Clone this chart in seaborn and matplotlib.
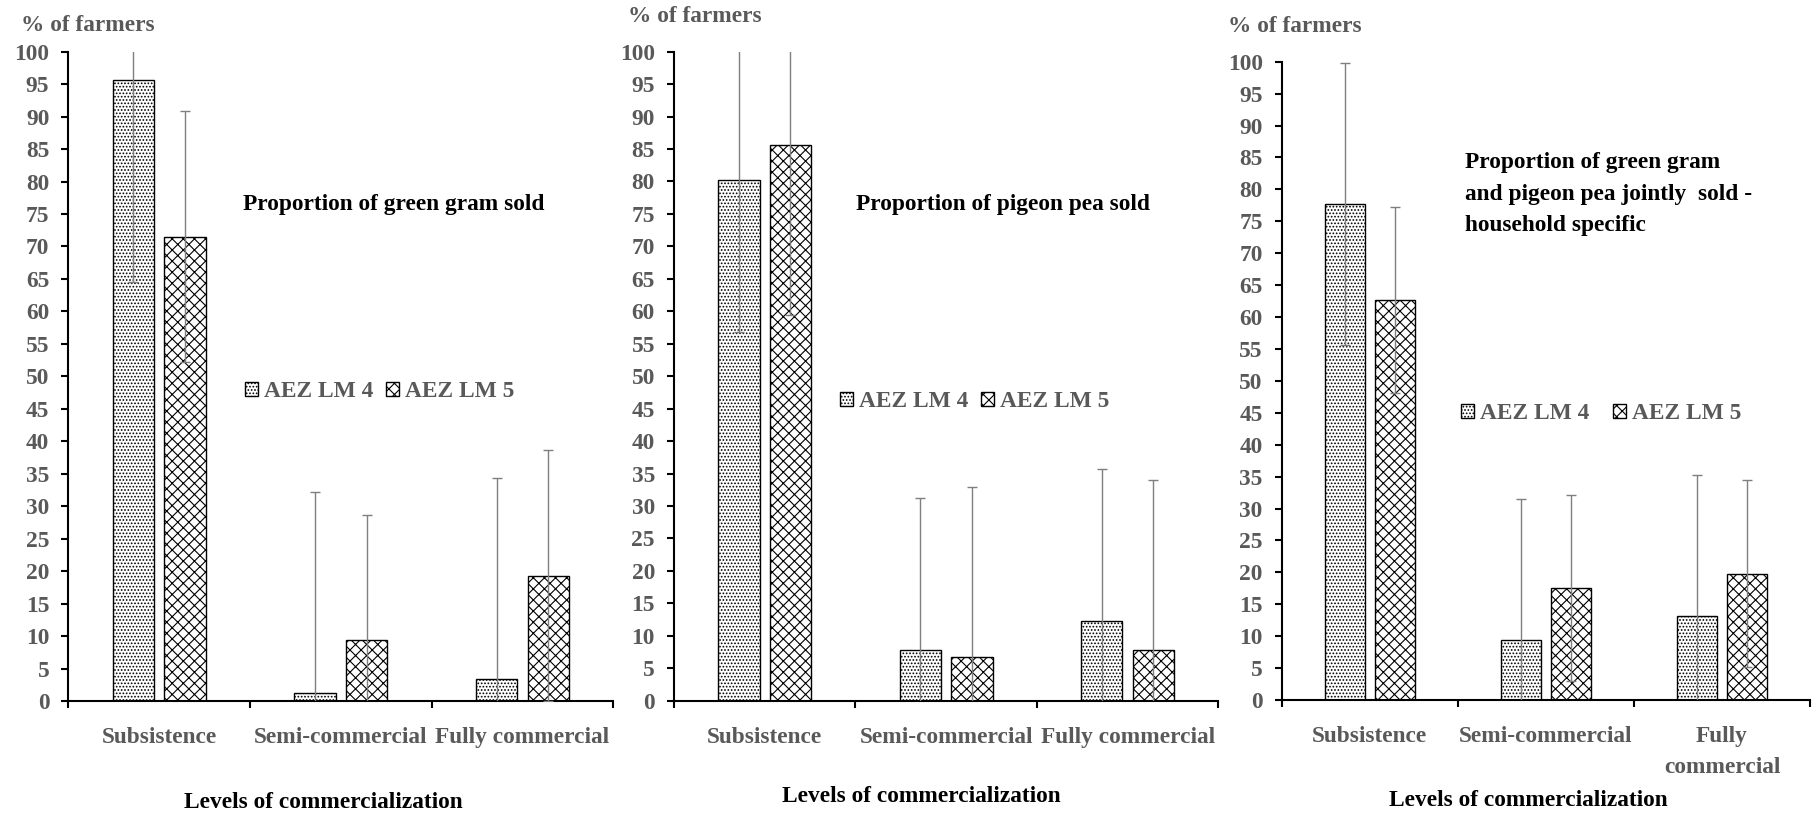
import matplotlib
matplotlib.use("Agg")
import matplotlib.pyplot as plt
import pandas as pd
import seaborn as sns

# Commercialization levels and agro-ecological zones
levels = ["Subsistence", "Semi-commercial", "Fully commercial"]
zones = ["AEZ LM 4", "AEZ LM 5"]

# % of farmers per level, green gram
green_gram_lm4 = [95.6, 1.2, 3.4]
green_gram_lm5 = [71.5, 9.4, 19.3]
green_gram_err = [31.0, 19.3]

# % of farmers per level, pigeon pea
pigeon_pea_lm4 = [80.2, 7.8, 12.3]
pigeon_pea_lm5 = [85.7, 6.7, 7.8]
pigeon_pea_err = [23.4, 26.2]

# % of farmers per level, both crops jointly (household specific)
joint_lm4 = [77.7, 9.4, 13.2]
joint_lm5 = [62.7, 17.5, 19.8]
joint_err = [22.1, 14.6]

titles = [
    "Proportion of green gram sold",
    "Proportion of pigeon pea sold",
    "Proportion of green gram\nand pigeon pea jointly  sold -\nhousehold specific",
]
tick_labels_single = ["Subsistence", "Semi-commercial", "Fully commercial"]
tick_labels_wrapped = ["Subsistence", "Semi-commercial", "Fully\ncommercial"]
y_ticks = list(range(0, 101, 5))
y_title = "% of farmers"
x_title = "Levels of commercialization"

sns.set_theme(style="ticks")
plt.rcParams["font.family"] = ["Liberation Serif", "DejaVu Serif"]
plt.rcParams["font.weight"] = "bold"
plt.rcParams["hatch.linewidth"] = 0.8

GREY = "#595959"
FS = 16.8
hatches = [".....", "xxx"]

fig = plt.figure(figsize=(18.2, 8.17), dpi=100)

panels = [
    dict(lm4=green_gram_lm4, lm5=green_gram_lm5, err=green_gram_err, title=titles[0],
         ticks=tick_labels_single,
         rect=[0.03753, 0.14198, 0.29945, 0.79474],
         title_xy=(0.320, 0.764), leg_xy=(0.3246, 0.476), colsp=0.54,
         xlabel_xy=(0.468, -0.157), ytitle_xy=(0.01137, 0.9694)),
    dict(lm4=pigeon_pea_lm4, lm5=pigeon_pea_lm5, err=pigeon_pea_err, title=titles[1],
         ticks=tick_labels_single,
         rect=[0.37033, 0.14235, 0.29907, 0.79437],
         title_xy=(0.3347, 0.764), leg_xy=(0.305, 0.461), colsp=0.54,
         xlabel_xy=(0.455, -0.148), ytitle_xy=(0.3449, 0.9796)),
    dict(lm4=joint_lm4, lm5=joint_lm5, err=joint_err, title=titles[2],
         ticks=tick_labels_wrapped,
         rect=[0.70423, 0.14321, 0.29027, 0.78127],
         title_xy=(0.347, 0.7927), leg_xy=(0.340, 0.449), colsp=1.0,
         xlabel_xy=(0.4677, -0.1567), ytitle_xy=(0.675, 0.9673)),
]

for pnl in panels:
    df = pd.DataFrame({
        "level": levels * 2,
        "zone": [zones[0]] * 3 + [zones[1]] * 3,
        "pct": pnl["lm4"] + pnl["lm5"],
    })
    ax = fig.add_axes(pnl["rect"])
    sns.barplot(data=df, x="level", y="pct", hue="zone", order=levels, hue_order=zones,
                palette={z: "white" for z in zones}, edgecolor="black", linewidth=1.0,
                width=0.568, gap=0.2, errorbar=None, legend=False, ax=ax)

    bar_containers = list(ax.containers[:2])
    for cont, hatch, err in zip(bar_containers, hatches, pnl["err"]):
        xs, ys = [], []
        for p in cont.patches:
            p.set_hatch(hatch)
            xs.append(p.get_x() + p.get_width() / 2)
            ys.append(p.get_height())
        ax.errorbar(xs, ys, yerr=err, fmt="none", ecolor="#7f7f7f", elinewidth=1.0,
                    capsize=3.3, capthick=1.0, zorder=4)

    ax.set_xlim(-0.5, 2.5)
    ax.set_ylim(0, 100)
    ax.set_yticks(y_ticks)
    ax.set_xticks([0, 1, 2], pnl["ticks"])
    ax.set_xticks([-0.5, 0.5, 1.5, 2.5], minor=True)
    ax.tick_params(axis="x", which="major", length=0, pad=19, labelsize=FS, labelcolor=GREY)
    ax.tick_params(axis="x", which="minor", length=5, width=1.5, direction="out", color="black")
    ax.tick_params(axis="y", length=4.7, width=1.5, pad=9, labelsize=FS, labelcolor=GREY,
                   color="black", direction="out")
    for lab in ax.get_xticklabels():
        lab.set_fontweight("bold")
        lab.set_linespacing(1.57)
    for lab in ax.get_yticklabels():
        lab.set_fontweight("bold")
    sns.despine(ax=ax)
    for side in ("left", "bottom"):
        ax.spines[side].set_linewidth(1.5)
        ax.spines[side].set_color("black")

    ax.set_ylabel("")
    ax.set_xlabel(x_title, fontsize=FS, fontweight="bold", color="black")
    ax.xaxis.set_label_coords(*pnl["xlabel_xy"])
    ax.xaxis.label.set_va("center")

    ax.text(pnl["title_xy"][0], pnl["title_xy"][1], pnl["title"], transform=ax.transAxes,
            ha="left", va="center", fontsize=FS, fontweight="bold", color="black",
            linespacing=1.63)

    ax.legend(bar_containers, zones, loc="center left", bbox_to_anchor=pnl["leg_xy"],
              frameon=False, ncol=2, handlelength=0.56, handleheight=0.56,
              handletextpad=0.26, columnspacing=pnl["colsp"], borderpad=0,
              borderaxespad=0, prop=dict(size=FS, weight="bold"), labelcolor=GREY)

    fig.text(pnl["ytitle_xy"][0], pnl["ytitle_xy"][1], y_title, ha="left", va="center",
             fontsize=FS, fontweight="bold", color=GREY)

fig.savefig("out.png", dpi=100, facecolor="white")
